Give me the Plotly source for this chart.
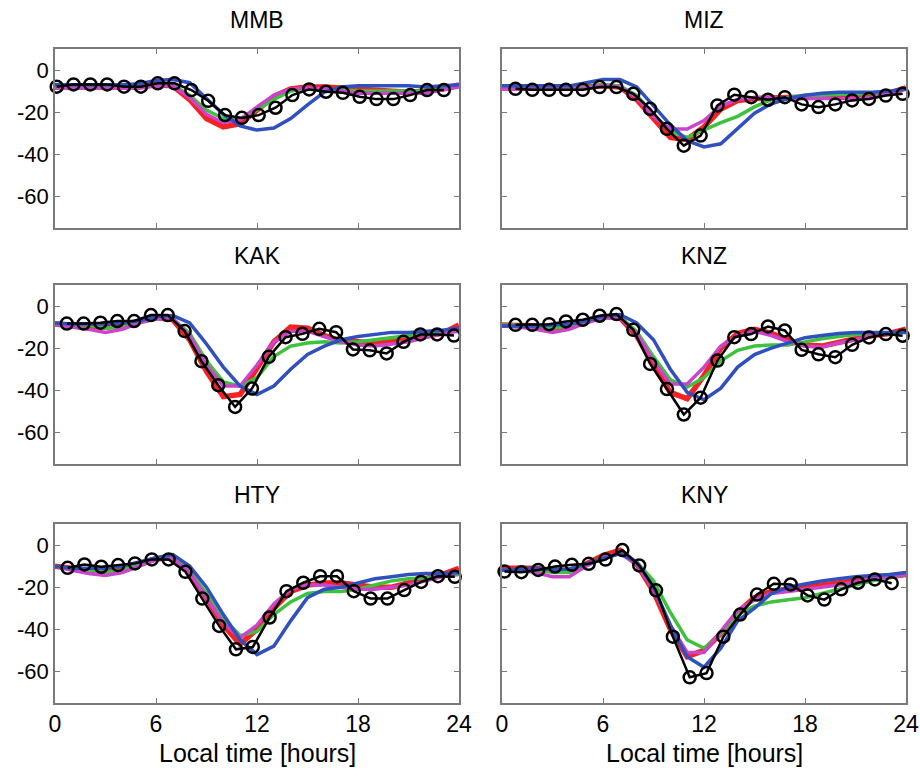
import plotly.graph_objects as go

STATIONS = ["MMB", "MIZ", "KAK", "KNZ", "HTY", "KNY"]
MODEL_HOURS = [0, 1, 2, 3, 4, 5, 6, 7, 8, 9, 10, 11, 12, 13, 14, 15, 16, 17, 18, 19, 20, 21, 22, 23, 24]

OBS_HOURS = {
    "MMB": [0.1, 1.1, 2.1, 3.1, 4.1, 5.1, 6.1, 7.1, 8.1, 9.1, 10.1, 11.1, 12.1, 13.1, 14.1, 15.1, 16.1, 17.1, 18.1, 19.1, 20.1, 21.1, 22.1, 23.1],
    "MIZ": [0.8, 1.8, 2.8, 3.8, 4.8, 5.8, 6.8, 7.8, 8.8, 9.8, 10.8, 11.8, 12.8, 13.8, 14.8, 15.8, 16.8, 17.8, 18.8, 19.8, 20.8, 21.8, 22.8, 23.8],
    "KAK": [0.7, 1.7, 2.7, 3.7, 4.7, 5.7, 6.7, 7.7, 8.7, 9.7, 10.7, 11.7, 12.7, 13.7, 14.7, 15.7, 16.7, 17.7, 18.7, 19.7, 20.7, 21.7, 22.7, 23.7],
    "KNZ": [0.8, 1.8, 2.8, 3.8, 4.8, 5.8, 6.8, 7.8, 8.8, 9.8, 10.8, 11.8, 12.8, 13.8, 14.8, 15.8, 16.8, 17.8, 18.8, 19.8, 20.8, 21.8, 22.8, 23.8],
    "HTY": [0.75, 1.75, 2.75, 3.75, 4.75, 5.75, 6.75, 7.75, 8.75, 9.75, 10.75, 11.75, 12.75, 13.75, 14.75, 15.75, 16.75, 17.75, 18.75, 19.75, 20.75, 21.75, 22.75, 23.75],
    "KNY": [0.15, 1.15, 2.15, 3.15, 4.15, 5.15, 6.15, 7.15, 8.15, 9.15, 10.15, 11.15, 12.15, 13.15, 14.15, 15.15, 16.15, 17.15, 18.15, 19.15, 20.15, 21.15, 22.15, 23.15],
}

OBS = {
    "MMB": [-7.9, -6.8, -6.8, -6.8, -7.9, -7.9, -6.3, -6.3, -9.5, -14.6, -21.4, -22.7, -21.4, -17.9, -11.9, -9.2, -10.3, -10.8, -12.7, -13.8, -13.8, -11.9, -9.5, -9.5],
    "MIZ": [-8.9, -9.4, -9.4, -9.4, -9.4, -8.1, -8.1, -11.3, -18.4, -27.9, -35.9, -31.1, -16.8, -11.7, -12.9, -14.1, -12.9, -16.3, -17.6, -16.3, -14.4, -13.7, -12.1, -11.3],
    "KAK": [-8.3, -8.3, -7.9, -7.1, -7.1, -4.3, -4.3, -11.9, -26.2, -37.6, -47.9, -39.2, -24.1, -14.8, -13.2, -10.8, -12.4, -20.6, -21.0, -22.5, -17.0, -13.5, -13.5, -14.0],
    "KNZ": [-8.9, -8.9, -8.6, -7.3, -6.5, -4.6, -3.8, -11.3, -27.5, -39.4, -51.5, -43.5, -25.9, -14.8, -13.3, -9.7, -11.6, -20.8, -22.9, -24.3, -18.4, -14.9, -13.3, -14.1],
    "HTY": [-10.8, -9.2, -10.3, -9.5, -8.7, -6.8, -6.8, -12.7, -25.4, -38.4, -49.5, -48.4, -34.4, -21.9, -17.9, -14.8, -14.8, -21.9, -25.4, -25.4, -21.4, -17.5, -14.8, -15.1],
    "KNY": [-12.6, -12.9, -11.8, -10.2, -9.4, -8.9, -6.9, -2.4, -9.7, -21.5, -43.5, -62.8, -60.8, -43.5, -33.0, -23.5, -18.4, -18.7, -23.9, -25.9, -21.0, -17.9, -16.3, -18.1],
}

RED = {
    "MMB": [-8, -8, -8, -8, -8, -8, -7, -7.5, -14, -23, -27, -25.5, -19, -12.5, -9, -8, -8, -8.5, -9, -10, -10, -10.5, -10, -9, -7],
    "MIZ": [-8.5, -8.5, -8.5, -8.5, -8.5, -8, -7.5, -8, -14, -23, -32, -33, -27, -18.5, -14.5, -13.5, -13, -13, -13, -12.5, -12.5, -12.5, -12, -11, -8.5],
    "KAK": [-8.5, -9, -9, -10, -9, -7.5, -5.5, -6.5, -16, -31, -43, -42, -30, -17, -10, -10.5, -14, -16.5, -17, -17.5, -17, -15.5, -14.5, -13, -9],
    "KNZ": [-9, -9, -9.5, -10.5, -9.5, -7.5, -5, -5.5, -14, -28, -41, -44, -33, -20, -13, -11, -13, -16, -18.5, -19, -17, -15.5, -14, -13, -11],
    "HTY": [-10, -11, -12, -13, -12, -9, -6.5, -6, -13, -25, -38, -47, -40, -30, -22, -19, -18, -18, -19, -20, -20, -18, -16, -14, -11],
    "KNY": [-11, -11, -11, -12, -12, -9, -5, -2.5, -9, -22, -40, -53, -50, -42, -32, -25, -22, -21, -20, -19, -18, -17, -16, -15, -14],
}

GREEN = {
    "MMB": [-8, -8, -8, -8, -8, -8, -7, -7, -12, -19, -23, -23, -19, -14, -10, -9, -9, -9.5, -10, -10, -10, -10, -10, -9, -7.5],
    "MIZ": [-8.5, -8.5, -8.5, -8.5, -8.5, -8, -7, -7.5, -12, -21, -29, -32, -28.5, -25, -22, -17.5, -14, -13, -12, -12, -11.5, -11.5, -11, -10.5, -9],
    "KAK": [-9, -9, -9, -10.5, -10, -8, -6, -6, -13, -26, -36, -38, -34, -24, -19, -17.5, -17, -17.5, -17, -16, -15, -14, -13, -12, -11],
    "KNZ": [-9, -9, -9.5, -10.5, -9.5, -7.5, -5, -5, -12, -24, -35, -38.5, -34, -26, -21, -19, -18.5, -18.5, -17, -15.5, -14.5, -13.5, -13, -13, -12],
    "HTY": [-10, -11, -12, -13, -12, -9, -6, -6, -12, -23, -35, -43, -41, -33, -27, -23, -22, -22, -21, -19, -17, -16, -15.5, -15, -14],
    "KNY": [-12, -11.5, -11.5, -13, -13, -9.5, -6, -4, -8, -17, -32, -45, -49, -42, -33, -29, -27, -26, -25, -23, -21, -19, -17, -15.5, -14],
}

MAGENTA = {
    "MMB": [-8.5, -8.5, -8.5, -8.5, -8.5, -8.5, -7.5, -7.5, -13, -21, -25, -23.5, -17.5, -12, -9, -8.5, -9, -10, -11, -11, -11, -11, -11, -9.5, -8],
    "MIZ": [-9, -9, -9, -9, -9, -8.5, -7.5, -8, -13, -22, -28, -28, -24, -17, -14, -13, -13, -13.5, -13.5, -13.5, -13.5, -13.5, -13, -11, -9],
    "KAK": [-9, -10, -11, -12.5, -11, -8, -6, -6, -14, -28, -38, -38, -28, -17, -12, -12, -14.5, -17, -18.5, -19, -18, -17, -15, -13, -12],
    "KNZ": [-9.5, -10, -11, -12.5, -11, -8, -5.5, -5.5, -13, -26, -37, -37, -29, -19, -14, -12, -14, -17, -19, -19.5, -17.5, -16, -14, -13, -12],
    "HTY": [-10, -12, -13.5, -14.5, -13, -10, -7, -6.5, -13, -25, -37, -44, -38, -28, -21, -19, -19, -20, -21, -21, -20, -19, -17, -15, -13],
    "KNY": [-12, -12, -13, -15, -15, -10, -6, -4, -9, -21, -38, -51, -51, -41, -31, -26, -23, -22, -21, -20, -19, -17.5, -16, -15, -14],
}

BLUE = {
    "MMB": [-7, -7, -7, -7, -7, -6.5, -5, -4.5, -6, -13.5, -21, -26.5, -28.5, -27.5, -23, -16.5, -10.5, -8, -7.5, -7.5, -7.5, -7.5, -8, -7.5, -7],
    "MIZ": [-7.5, -7.5, -7.5, -7.5, -7.5, -6, -4.5, -4.5, -8, -17, -26, -33.5, -36.5, -35, -28, -20.5, -16, -13.5, -12, -11, -10.5, -10.5, -10.5, -10, -9],
    "KAK": [-8, -8.5, -8.5, -8.5, -8, -7, -5, -4.5, -8, -18, -29, -38, -42, -38, -30, -23, -19, -16, -14.5, -13.5, -12.5, -12.5, -12, -11.5, -10.5],
    "KNZ": [-9.5, -9.5, -9.5, -9, -8.5, -7, -5, -4, -8, -16, -30, -41, -44.5, -39, -29, -23, -20, -17.5, -15, -14, -13, -12.5, -12.5, -12.5, -12.5],
    "HTY": [-10, -11, -11, -11, -10, -8, -6, -4.5, -10, -20, -33, -45, -52, -48, -36, -25, -21, -20, -18, -16, -15, -14, -13.5, -13.5, -13],
    "KNY": [-12, -11.5, -11, -11.5, -11.5, -9, -6.5, -4, -8, -20, -38, -53, -58, -49, -36, -30, -23, -20, -18.5, -17, -16, -15, -14.5, -14, -13],
}

Y_TICKS = [0, -20, -40, -60]
Y_TICK_TEXT = ["0", "-20", "-40", "-60"]
X_TICKS = [0, 6, 12, 18, 24]
X_TICK_TEXT = ["0", "6", "12", "18", "24"]
X_TITLE = "Local time [hours]"

W, H = 920, 772
COL_X = [(55, 459), (502, 906)]
ROW_Y = [(49, 228), (285, 464), (524, 703)]
FONT = "Liberation Sans, Arial, Helvetica, sans-serif"
FRAME = "#7a7a7a"

fig = go.Figure()
layout = dict(
    width=W, height=H, margin=dict(l=0, r=0, t=0, b=0),
    paper_bgcolor="white", plot_bgcolor="white", showlegend=False,
    font=dict(family=FONT, color="black"),
)
annotations = []

series = [
    (RED, "#f42222", 5.5),
    (GREEN, "#3cc23c", 3.5),
    (MAGENTA, "#cc44cc", 3.5),
    (BLUE, "#3050c0", 3.5),
]

for i, st in enumerate(STATIONS):
    r, c = divmod(i, 2)
    n = i + 1
    xa = "x" if n == 1 else f"x{n}"
    ya = "y" if n == 1 else f"y{n}"
    for data, col, w in series:
        fig.add_trace(go.Scatter(x=MODEL_HOURS, y=data[st], mode="lines",
                                 line=dict(color=col, width=w), xaxis=xa, yaxis=ya,
                                 hoverinfo="skip"))
    fig.add_trace(go.Scatter(x=OBS_HOURS[st], y=OBS[st], mode="lines+markers",
                             line=dict(color="black", width=2.5),
                             marker=dict(symbol="circle-open", size=12, color="black",
                                         line=dict(width=2.5, color="black")),
                             xaxis=xa, yaxis=ya, cliponaxis=False))
    x0, x1 = COL_X[c]
    y0, y1 = ROW_Y[r]
    common = dict(showline=True, mirror="ticks", ticks="inside", ticklen=5,
                  tickcolor=FRAME, linecolor=FRAME, linewidth=1.5,
                  showgrid=False, zeroline=False, automargin=False)
    layout["xaxis" if n == 1 else f"xaxis{n}"] = dict(
        domain=[x0 / W, x1 / W], range=[0, 24], anchor=ya,
        tickvals=X_TICKS, ticktext=X_TICK_TEXT,
        showticklabels=(r == 2), tickfont=dict(size=23, family=FONT, color="black"),
        **common)
    layout["yaxis" if n == 1 else f"yaxis{n}"] = dict(
        domain=[1 - y1 / H, 1 - y0 / H], range=[-75, 10], anchor=xa,
        tickvals=Y_TICKS, ticktext=Y_TICK_TEXT,
        showticklabels=(c == 0), tickfont=dict(size=22, family=FONT, color="black"),
        **common)
    annotations.append(dict(text=st, x=(x0 + x1) / 2 / W, y=1 - (y0 - 29) / H,
                            xref="paper", yref="paper", showarrow=False,
                            xanchor="center", yanchor="middle",
                            font=dict(size=23, family=FONT, color="black")))
    if r == 2:
        annotations.append(dict(text=X_TITLE, x=(x0 + x1) / 2 / W, y=1 - 753 / H,
                                xref="paper", yref="paper", showarrow=False,
                                xanchor="center", yanchor="middle",
                                font=dict(size=25, family=FONT, color="black")))

layout["annotations"] = annotations
fig.update_layout(**layout)
fig.write_html("out.html",
               config={"displayModeBar": False},
               post_script="document.body.style.margin='0';document.body.style.padding='0';"
                           "document.body.style.overflow='hidden';"
                           "document.documentElement.style.overflow='hidden';")
